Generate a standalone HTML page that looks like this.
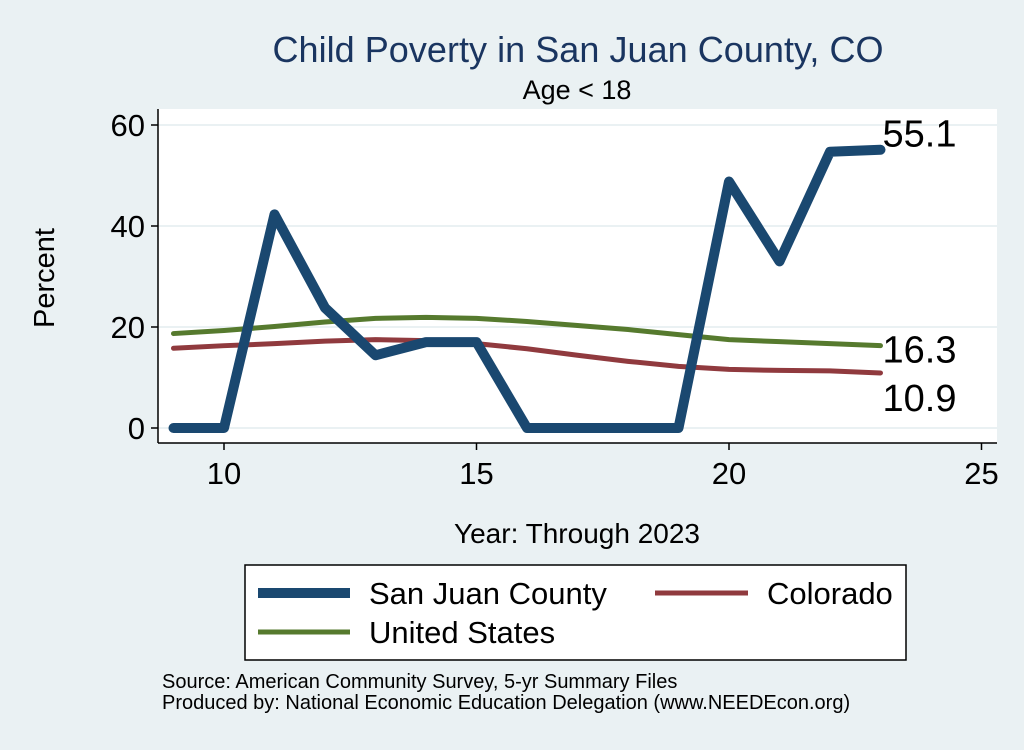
<!DOCTYPE html>
<html><head><meta charset="utf-8"><style>
body{margin:0;background:#eaf1f3;font-family:"Liberation Sans",sans-serif;}
</style></head><body>
<svg id="c" width="1024" height="745" xmlns="http://www.w3.org/2000/svg">
<rect x="0" y="0" width="1024" height="745" fill="#eaf1f3"/>
<rect x="158" y="109" width="839" height="334" fill="#ffffff"/>
<text x="578" y="62" font-size="36" fill="#1a3560" text-anchor="middle" textLength="611">Child Poverty in San Juan County, CO</text>
<text x="577" y="99" font-size="27" fill="#000" text-anchor="middle">Age &lt; 18</text>
<text x="54" y="278" font-size="29" text-anchor="middle" transform="rotate(-90 54 278)">Percent</text>
<text x="577" y="543" font-size="28" text-anchor="middle">Year: Through 2023</text>
<g id="grid"></g><g id="axes"></g><g id="lines"></g>
<g>
<rect x="245" y="565" width="661" height="95" fill="#fff" stroke="#000" stroke-width="1.5"/>
<line x1="258" y1="593" x2="350" y2="593" stroke="#1a4870" stroke-width="10"/>
<text x="369" y="604" font-size="31">San Juan County</text>
<line x1="655" y1="593" x2="748" y2="593" stroke="#903a3e" stroke-width="5"/>
<text x="767" y="604" font-size="31">Colorado</text>
<line x1="258" y1="632" x2="350" y2="632" stroke="#567a2e" stroke-width="5"/>
<text x="369" y="643" font-size="31">United States</text>
</g>
<text x="162" y="688" font-size="20">Source: American Community Survey, 5-yr Summary Files</text>
<text x="162" y="709" font-size="20">Produced by: National Economic Education Delegation (www.NEEDEcon.org)</text>
</svg>
<script>
const years=[9,10,11,12,13,14,15,16,17,18,19,20,21,22,23];
const sanJuan=[0,0,42.3,23.8,14.4,17,17,0,0,0,0,48.8,33,54.7,55.1];
const colorado=[15.8,16.3,16.7,17.2,17.5,17.3,16.7,15.7,14.4,13.2,12.2,11.6,11.4,11.3,10.9];
const us=[18.7,19.3,20.1,21,21.7,21.9,21.7,21.1,20.3,19.5,18.5,17.5,17.1,16.7,16.3];
const xTicks=[10,15,20,25];
const yTicks=[0,20,40,60];
const NS="http://www.w3.org/2000/svg";
const X=v=>224+(v-10)*50.5;
const Y=v=>428-v*5.05;
function mk(p,t,a){const e=document.createElementNS(NS,t);for(const k in a)e.setAttribute(k,a[k]);document.getElementById(p).appendChild(e);return e;}
yTicks.forEach(t=>{
 const g=mk('grid','line',{x1:158,x2:997,y1:Y(t),y2:Y(t),stroke:'#eaf1f3','stroke-width':2});
 
 
 const tk=mk('axes','line',{x1:151,x2:158,y1:Y(t),y2:Y(t),stroke:'#000','stroke-width':1.5});
 
 
 const tx=mk('axes','text',{x:145,y:Y(t)+11,'font-size':31,'text-anchor':'end'});tx.textContent=t;
 
 
});
xTicks.forEach(t=>{
 const tk=mk('axes','line',{x1:X(t),x2:X(t),y1:443,y2:450,stroke:'#000','stroke-width':1.5});
 
 
 const tx=mk('axes','text',{x:X(t),y:484,'font-size':31,'text-anchor':'middle'});tx.textContent=t;
 
 
});
const ya=mk('axes','line',{x1:158,x2:158,y1:109,y2:443,stroke:'#000','stroke-width':1.5});


const xa=mk('axes','line',{x1:158,x2:997,y1:443,y2:443,stroke:'#000','stroke-width':1.5});


function series(vals,col,w,name){
 const p=mk('lines','polyline',{points:years.map((y,i)=>X(y)+','+Y(vals[i])).join(' '),fill:'none',stroke:col,'stroke-width':w,'stroke-linejoin':'round','stroke-linecap':'round'});
 
 
}
series(us,'#567a2e',5,'line-united-states');
series(colorado,'#903a3e',5,'line-colorado');
series(sanJuan,'#1a4870',10,'line-san-juan');
const n=years.length-1;
[[sanJuan[n],-3,'label-san-juan-last'],[us[n],17,'label-us-last'],[colorado[n],38,'label-colorado-last']].forEach(([v,dy,nm])=>{
 const t=mk('lines','text',{x:X(years[n])+2,y:Y(v)+dy,'font-size':38});t.textContent=v.toFixed(1);
 
 
});
</script>
</body></html>
